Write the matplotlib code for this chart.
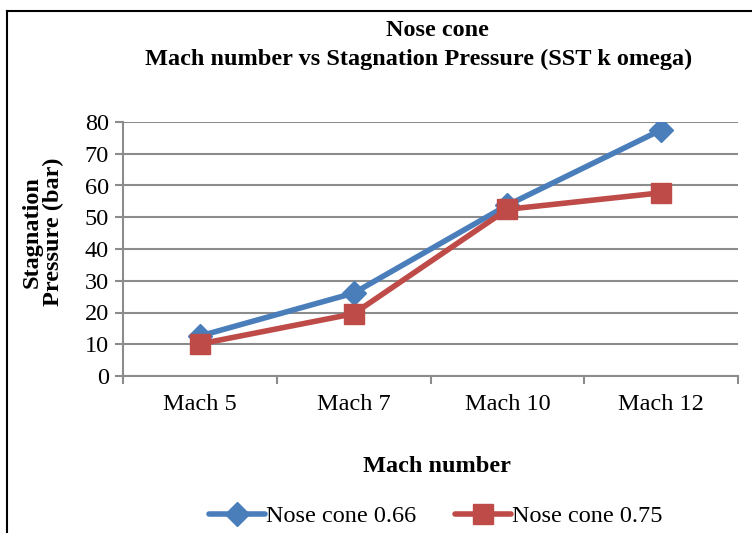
import matplotlib.pyplot as plt
from matplotlib.lines import Line2D
import numpy as np

# data
categories = ["Mach 5", "Mach 7", "Mach 10", "Mach 12"]
cone_066 = [12.6, 26.1, 53.8, 77.5]
cone_075 = [10.1, 19.6, 52.5, 57.7]

blue = "#4a7ebb"
red = "#be4b48"
grid_col = "#8c8c8c"

plt.rcParams["font.family"] = ["Liberation Serif", "DejaVu Serif"]

fig = plt.figure(figsize=(7.52, 5.33), dpi=100)
ax = fig.add_axes([123 / 752, 1 - 376 / 533, 615 / 752, 254 / 533])

x = np.arange(len(categories))
ax.plot(x, cone_066, color=blue, lw=4, marker="D", ms=12, label="Nose cone 0.66",
        solid_capstyle="round", zorder=3)
ax.plot(x, cone_075, color=red, lw=4, marker="s", ms=14, label="Nose cone 0.75",
        solid_capstyle="round", zorder=4)

ax.set_xlim(-0.5, len(categories) - 0.5)
ax.set_ylim(0, 80)
ax.set_yticks(range(0, 81, 10))
ax.set_xticks(x)
ax.set_xticklabels(categories)
ax.set_xticks(np.arange(-0.5, len(categories)), minor=True)
ax.tick_params(axis="x", which="major", length=0, labelsize=17.5, pad=13)
ax.tick_params(axis="x", which="minor", length=6, color=grid_col, width=1.5)
ax.tick_params(axis="y", length=6, color=grid_col, width=1.5, labelsize=17.5, pad=4)

ax.grid(axis="y", color=grid_col, lw=1.5)
ax.set_axisbelow(True)
for s in ["top", "right"]:
    ax.spines[s].set_visible(False)
ax.spines["left"].set_color(grid_col)
ax.spines["bottom"].set_color(grid_col)
ax.spines["left"].set_linewidth(1.5)
ax.spines["bottom"].set_linewidth(1.5)

fig.text(437 / 752, 1 - 30 / 533, "Nose cone", ha="center", va="center",
         fontsize=17.5, fontweight="bold")
fig.text(419 / 752, 1 - 59 / 533, "Mach number vs Stagnation Pressure (SST k omega)",
         ha="center", va="center", fontsize=17.5, fontweight="bold")
fig.text(437 / 752, 1 - 467 / 533, "Mach number", ha="center", va="center",
         fontsize=17.5, fontweight="bold")
fig.text(43 / 752, 1 - 232 / 533, "Stagnation\nPressure (bar)", ha="center", va="center",
         rotation=90, fontsize=17.5, fontweight="bold", linespacing=1.0)

fig.legend(loc="center", bbox_to_anchor=(436 / 752, 1 - 516 / 533), ncol=2,
           frameon=False, fontsize=17.5, handlelength=2.3, columnspacing=1.6,
           handletextpad=0.05, borderaxespad=0)

# border around the chart area
fig.add_artist(Line2D([7 / 752, 7 / 752], [0, 1 - 11 / 533], color="black", lw=1.5,
                      transform=fig.transFigure))
fig.add_artist(Line2D([7 / 752, 1], [1 - 11 / 533, 1 - 11 / 533], color="black", lw=1.5,
                      transform=fig.transFigure))

fig.savefig("out.png", dpi=100)
